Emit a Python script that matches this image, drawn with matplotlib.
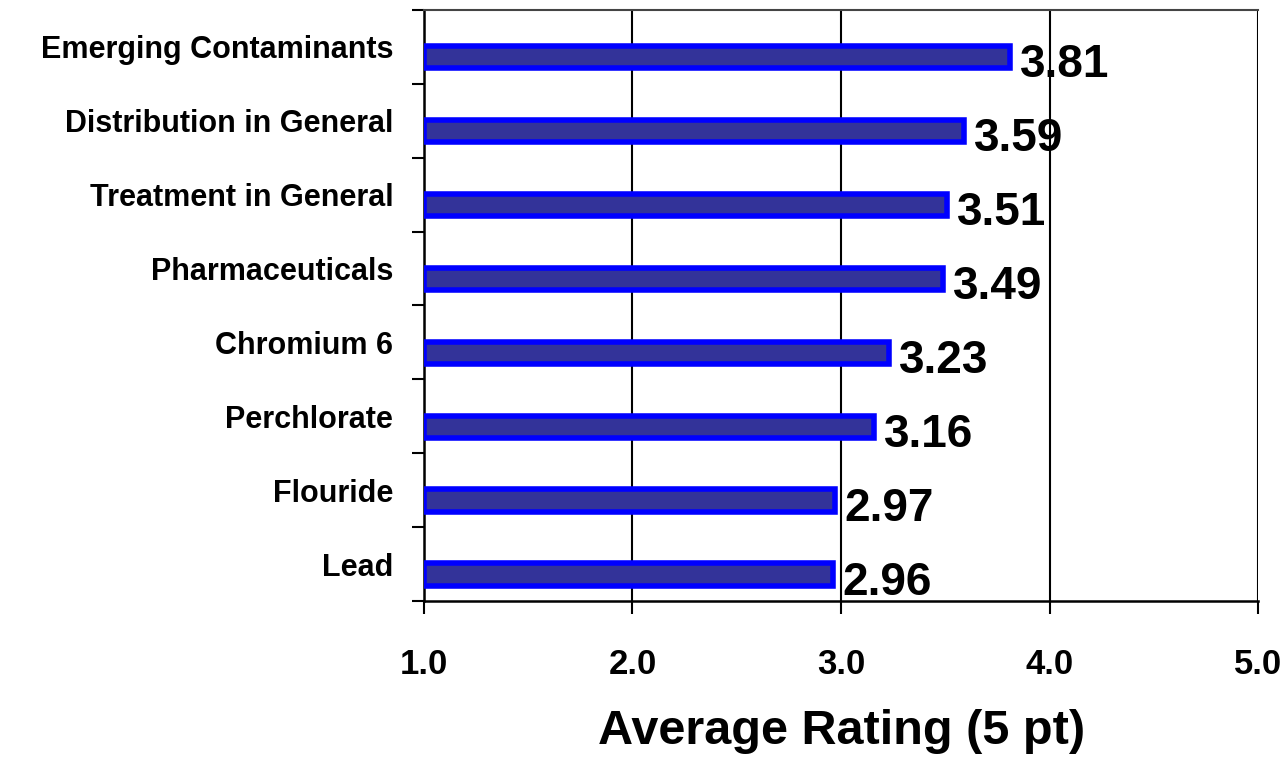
import matplotlib.pyplot as plt
import numpy as np

categories = ["Emerging Contaminants", "Distribution in General", "Treatment in General",
              "Pharmaceuticals", "Chromium 6", "Perchlorate", "Flouride", "Lead"]
ratings = [3.81, 3.59, 3.51, 3.49, 3.23, 3.16, 2.97, 2.96]
xticks = [1.0, 2.0, 3.0, 4.0, 5.0]

plt.rcParams['font.family'] = ['Liberation Sans', 'DejaVu Sans']
plt.rcParams['font.weight'] = 'bold'

fig = plt.figure(figsize=(12.88, 7.58), dpi=100)
ax = fig.add_axes([0.329, 0.207, 0.648, 0.780])

y = np.arange(len(categories))[::-1]
ybar = y - 0.14
base = 1.0
ax.barh(ybar, np.array(ratings) - base, left=base, height=0.30,
        color='#333399', edgecolor='#0000ff', linewidth=4, zorder=3)

for yi, v in zip(ybar, ratings):
    ax.annotate(f"{v:.2f}", (v, yi), xytext=(7, -6), textcoords='offset points',
                ha='left', va='center', fontsize=33, fontweight='bold', zorder=4)

ax.set_xlim(1, 5)
ax.set_ylim(-0.5, len(categories) - 0.5)
ax.set_xticks(xticks)
ax.set_xticklabels([f"{t:.1f}" for t in xticks], fontsize=25, fontweight='bold')
ax.tick_params(axis='x', direction='out', length=9, width=1.5, pad=25)

ax.set_yticks(y)
ax.set_yticklabels(categories, fontsize=22, fontweight='bold', va='center_baseline')
ax.tick_params(axis='y', which='major', length=0, pad=22)
ax.set_yticks(np.arange(-0.5, len(categories), 1.0), minor=True)
ax.tick_params(axis='y', which='minor', direction='out', length=9, width=1.5)

ax.xaxis.grid(True, color='black', linewidth=1.5, zorder=0)
ax.set_axisbelow(True)
ax.spines['right'].set_visible(False)
ax.spines['top'].set_linewidth(1.5)
ax.spines['top'].set_color('#444444')
for s in ['left', 'bottom']:
    ax.spines[s].set_linewidth(1.8)

ax.set_xlabel("Average Rating (5 pt)", fontsize=35, fontweight='bold', labelpad=20)

fig.savefig("out.png", dpi=100)
